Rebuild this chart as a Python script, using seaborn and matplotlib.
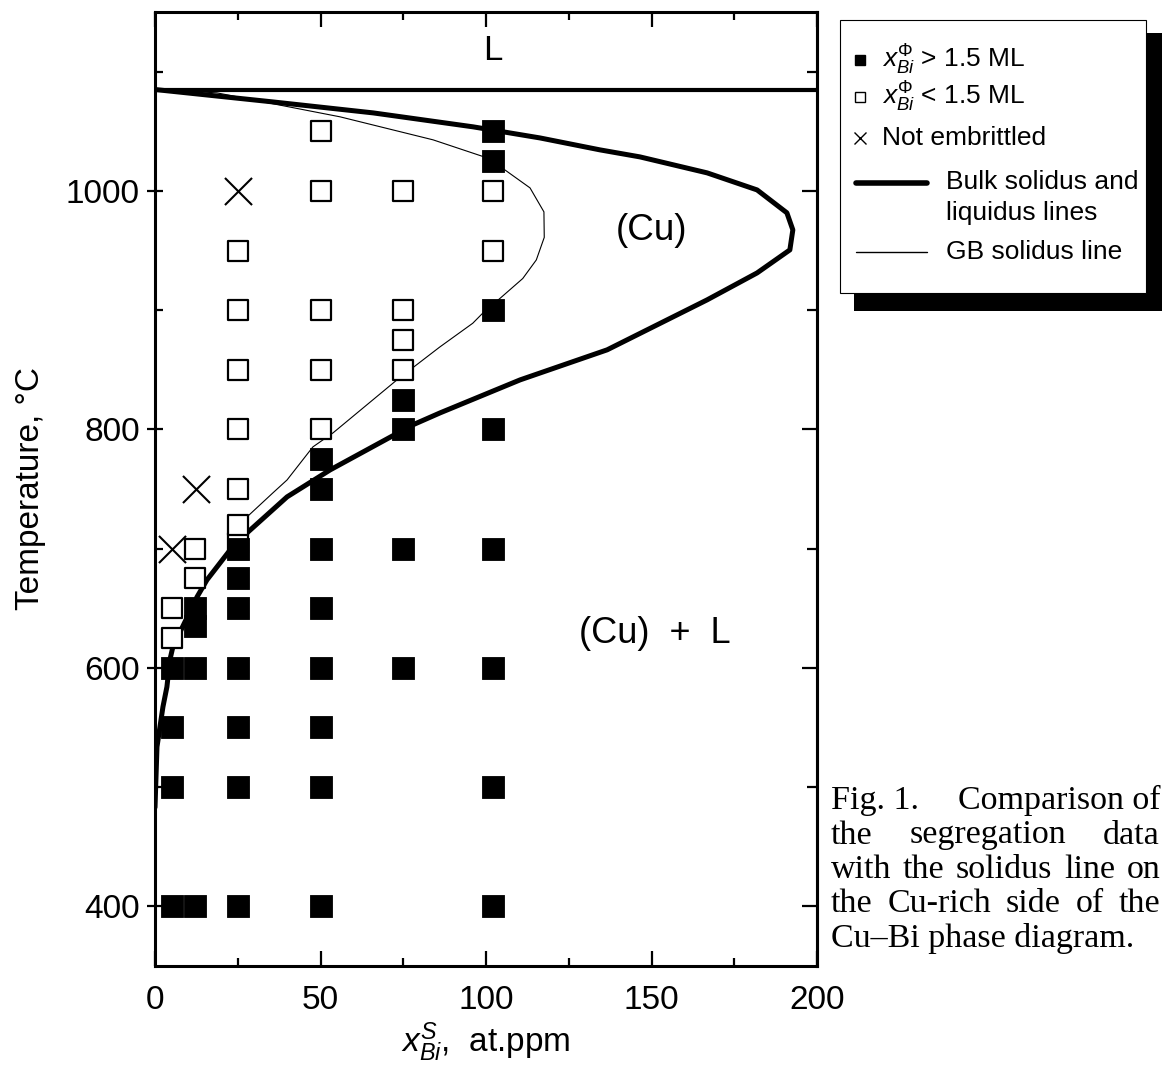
import matplotlib
matplotlib.use('Agg')
import matplotlib.pyplot as plt
import seaborn as sns
from matplotlib.lines import Line2D
from matplotlib.patches import Rectangle

# Data (x: at.ppm Bi, T: deg C)
bulk_x = [0, 35.6, 65.9, 96.1, 116.3, 134.4, 146.5, 166.8, 181.9, 190.9, 192.7, 191.8,
          181.9, 166.8, 136.6, 110.3, 86.1, 77.9, 52.9, 39.9, 27.8, 22.7, 15.7, 12.7,
          5.4, 4.5, 3.6, 2.4, 0.6, 0]
bulk_T = [1085, 1074.6, 1065.4, 1053.7, 1044.4, 1034.4, 1028.5, 1015.1, 1000.8, 981.6, 967.3, 950.5,
          931.2, 908.6, 866.7, 841.5, 813.8, 803.8, 766.0, 743.4, 713.2, 698.9, 673.8, 659.5,
          617.6, 606.7, 584.1, 567.3, 533.8, 483]

gb_x = [0, 18.7, 55.9, 84.0, 100.3, 105.7, 113.3, 117.5, 117.6, 115.2, 111.1, 104.5, 99.1,
        96.0, 86.0, 73.1, 53.8, 47.7, 39.9, 35.6, 27.8]
gb_T = [1085, 1082.2, 1062.1, 1042.8, 1027.7, 1017.6, 1002.5, 982.4, 961.0, 942.1, 926.5, 910.5, 897.7,
        889.0, 869.0, 841.5, 797.1, 785.3, 757.6, 746.7, 726.6]

T_melt = 1085

above_x = [5, 5, 5, 5, 12, 12, 12, 12, 25, 25, 25, 25, 25, 25, 25,
           50, 50, 50, 50, 50, 50, 50, 50, 75, 75, 75, 75,
           102, 102, 102, 102, 102, 102, 102, 102]
above_T = [400, 500, 550, 600, 400, 600, 635, 650, 400, 500, 550, 600, 650, 675, 700,
           400, 500, 550, 600, 650, 700, 750, 775, 600, 700, 800, 825,
           400, 500, 600, 700, 800, 900, 1025, 1050]

below_x = [5, 5, 12, 12, 25, 25, 25, 25, 25, 25, 25,
           50, 50, 50, 50, 50, 75, 75, 75, 75, 102, 102]
below_T = [625, 650, 675, 700, 705, 720, 750, 800, 850, 900, 950,
           800, 850, 900, 1000, 1050, 850, 875, 900, 1000, 950, 1000]

not_emb_x = [5, 12.5, 25]
not_emb_T = [700, 750, 1000]

caption = [["Fig. 1.", "Comparison of"],
           ["the", "segregation", "data"],
           ["with", "the", "solidus", "line", "on"],
           ["the", "Cu-rich", "side", "of", "the"]]
caption_last = "Cu\u2013Bi phase diagram."

W, H = 1165, 1084

sns.set_style('ticks')
plt.rcParams['font.family'] = ['Liberation Sans', 'DejaVu Sans']
plt.rcParams['mathtext.fontset'] = 'custom'
plt.rcParams['mathtext.rm'] = 'Liberation Sans'
plt.rcParams['mathtext.it'] = 'Liberation Sans:italic'
plt.rcParams['text.color'] = 'black'
plt.rcParams['axes.labelcolor'] = 'black'
plt.rcParams['xtick.color'] = 'black'
plt.rcParams['ytick.color'] = 'black'

fig = plt.figure(figsize=(W / 100, H / 100), dpi=100)
ax = fig.add_axes([155 / W, 1 - 966 / H, (817 - 155) / W, (966 - 12) / H])

# lines
ax.axhline(T_melt, color='black', linewidth=3, zorder=2)
sns.lineplot(x=bulk_x, y=bulk_T, sort=False, estimator=None, color='black', linewidth=3.6, ax=ax, zorder=2)
sns.lineplot(x=gb_x, y=gb_T, sort=False, estimator=None, color='black', linewidth=0.8, ax=ax, zorder=2)

# points
sns.scatterplot(x=below_x, y=below_T, marker='s', s=190, color='white', edgecolor='black',
                linewidth=1.6, ax=ax, zorder=3)
sns.scatterplot(x=above_x, y=above_T, marker='s', s=240, color='black', edgecolor='black',
                linewidth=0.6, ax=ax, zorder=4)
sns.scatterplot(x=not_emb_x, y=not_emb_T, marker='x', s=380, color='black', linewidth=1.5, ax=ax, zorder=4)

ax.text(102, 1118, 'L', ha='center', va='center', fontsize=25)
ax.text(150, 967, '(Cu)', ha='center', va='center', fontsize=26.5)
ax.text(151, 629, '(Cu)  +  L', ha='center', va='center', fontsize=26)

ax.set_xlim(0, 200)
ax.set_ylim(350, 1150)
ax.set_xticks([0, 50, 100, 150, 200])
ax.set_xticks([25, 75, 125, 175], minor=True)
ax.set_yticks([400, 600, 800, 1000])
ax.set_yticks([500, 700, 900, 1100], minor=True)

for s in ax.spines.values():
    s.set_linewidth(2.2)
    s.set_color('black')

ax.tick_params(axis='x', which='both', direction='in', top=True, bottom=True, width=1.6)
ax.tick_params(axis='x', which='major', length=11, pad=14, labelsize=24)
ax.tick_params(axis='x', which='minor', length=6)
ax.tick_params(axis='y', which='major', direction='inout', length=12, width=1.6,
               right=False, pad=5, labelsize=24)
ax.tick_params(axis='y', which='minor', direction='in', length=6, width=1.6, right=False)

sec = ax.secondary_yaxis('right')
sec.set_ticks([400, 600, 800, 1000])
sec.set_ticks([500, 700, 900, 1100], minor=True)
sec.tick_params(which='both', direction='in', width=1.6, labelright=False)
sec.tick_params(which='major', length=11)
sec.tick_params(which='minor', length=7)
sec.spines['right'].set_linewidth(2.2)

ax.set_xlabel(r'$x^{S}_{Bi}$,  at.ppm', fontsize=24)
ax.xaxis.set_label_coords(0.5, (966 - 1020) / 954)
ax.set_ylabel('Temperature, \u00b0C', fontsize=24)
ax.yaxis.set_label_coords((46 - 155) / 662, 0.5)

# legend box with a drop shadow
fig.add_artist(Rectangle((854 / W, 1 - 311 / H), (1162 - 854) / W, (311 - 33) / H,
                         transform=fig.transFigure, fc='black', ec='none', zorder=3))
fig.add_artist(Rectangle((840 / W, 1 - 293 / H), (1146 - 840) / W, (293 - 20) / H,
                         transform=fig.transFigure, fc='white', ec='black', lw=0.8, zorder=4))

leg_fs = 19
mx, tx = 860, 882
fig.add_artist(Line2D([mx / W], [1 - 60 / H], marker='s', ms=7, color='black', ls='none',
                      transform=fig.transFigure, zorder=5))
fig.add_artist(Line2D([mx / W], [1 - 97 / H], marker='s', ms=7, mfc='white', mec='black', mew=1,
                      ls='none', transform=fig.transFigure, zorder=5))
fig.add_artist(Line2D([mx / W], [1 - 138 / H], marker='x', ms=8, color='black', mew=1, ls='none',
                      transform=fig.transFigure, zorder=5))
fig.add_artist(Line2D([856 / W, 927 / W], [1 - 183 / H] * 2, color='black', lw=4,
                      transform=fig.transFigure, zorder=5))
fig.add_artist(Line2D([856 / W, 927 / W], [1 - 252 / H] * 2, color='black', lw=1,
                      transform=fig.transFigure, zorder=5))
fig.text(tx / W, 1 - 60 / H, r'$x^{\Phi}_{Bi}$ > 1.5 ML', va='center', fontsize=leg_fs, zorder=6)
fig.text(tx / W, 1 - 97 / H, r'$x^{\Phi}_{Bi}$ < 1.5 ML', va='center', fontsize=leg_fs, zorder=6)
fig.text(tx / W, 1 - 138 / H, 'Not embrittled', va='center', fontsize=leg_fs, zorder=6)
fig.text(946 / W, 1 - 182 / H, 'Bulk solidus and', va='center', fontsize=leg_fs, zorder=6)
fig.text(946 / W, 1 - 213 / H, 'liquidus lines', va='center', fontsize=leg_fs, zorder=6)
fig.text(946 / W, 1 - 252 / H, 'GB solidus line', va='center', fontsize=leg_fs, zorder=6)

# justified caption
cap_fs = 24.5
cap_left, cap_right = 831, 1160
renderer = fig.canvas.get_renderer()
base = 809
for i, words in enumerate(caption):
    y = 1 - (base + 34.5 * i) / H
    texts = [fig.text(0, y, w, fontsize=cap_fs, family=['Liberation Serif'], va='baseline') for w in words]
    widths = [t.get_window_extent(renderer).width for t in texts]
    gap = (cap_right - cap_left - sum(widths)) / (len(words) - 1)
    xpos = cap_left
    for t, w in zip(texts, widths):
        t.set_x(xpos / W)
        xpos += w + gap
fig.text(cap_left / W, 1 - (base + 34.5 * 4) / H, caption_last, fontsize=cap_fs,
         family=['Liberation Serif'], va='baseline')

fig.savefig('out.png', dpi=100)
